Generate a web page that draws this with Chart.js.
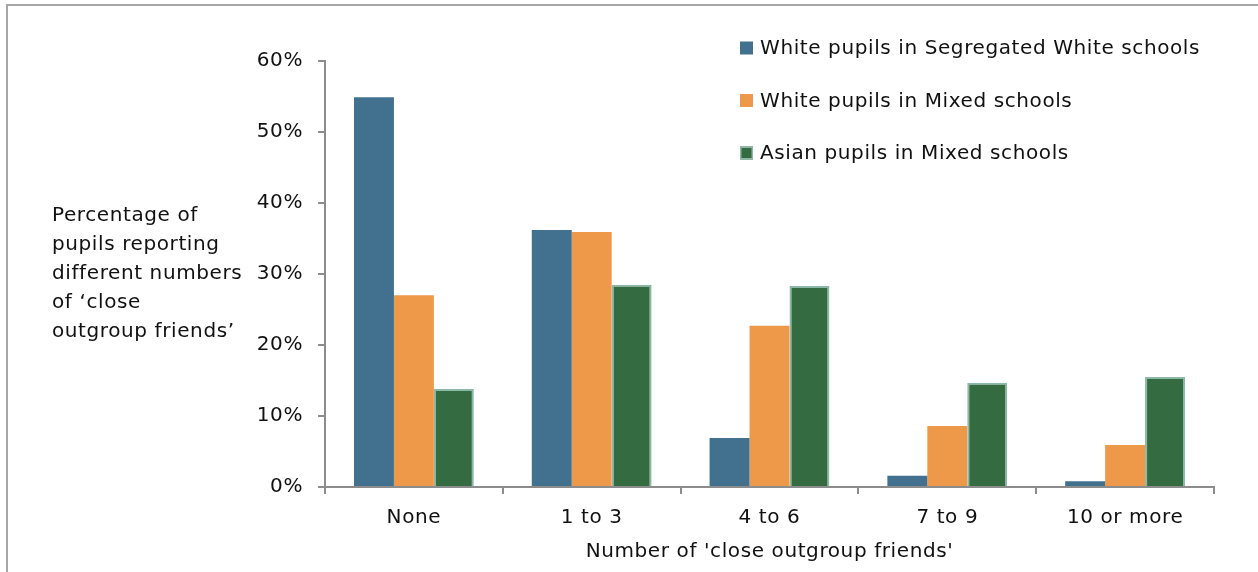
<!DOCTYPE html>
<html>
<head>
<meta charset="utf-8">
<script src="https://cdn.jsdelivr.net/npm/chart.js@4"></script>
<style>
  html, body { margin: 0; padding: 0; background: #fff; }
  #wrap { width: 1258px; height: 572px; position: relative; }
</style>
</head>
<body>
<div id="wrap"><canvas id="friendsChart"></canvas></div>
<script>
// data (percent of pupils)
const categories = ['None', '1 to 3', '4 to 6', '7 to 9', '10 or more'];
const segregatedWhite = [54.9, 36.2, 6.9, 1.6, 0.8];
const mixedWhite = [27.0, 35.9, 22.7, 8.6, 5.9];
const mixedAsian = [13.8, 28.5, 28.3, 14.7, 15.5];
const seriesNames = ['White pupils in Segregated White schools', 'White pupils in Mixed schools', 'Asian pupils in Mixed schools'];
const yTitleLines = ['Percentage of', 'pupils reporting', 'different numbers', 'of \u2018close', 'outgroup friends\u2019'];
const xTitle = "Number of 'close outgroup friends'";

const FONT = "'DejaVu Sans', sans-serif";
const FSIZE = 20;
const TEXT = '#111';
const AXIS = '#8c8c8c';

// frame, side title and legend are drawn by hand
const extras = {
    id: 'extras',
    beforeDraw(chart) {
        const c = chart.ctx;
        // the original font is wider than DejaVu, spread the letters a bit
        c.letterSpacing = '0.6px';
        c.save();
        c.fillStyle = '#fff';
        c.fillRect(0, 0, chart.width, chart.height);
        c.strokeStyle = '#a6a6a6';
        c.lineWidth = 2;
        c.beginPath();
        c.moveTo(7, chart.height);
        c.lineTo(7, 5);
        c.lineTo(chart.width, 5);
        c.stroke();
        c.restore();
    },
    afterDraw(chart) {
        const c = chart.ctx;
        c.save();
        c.font = FSIZE + 'px ' + FONT;
        c.fillStyle = TEXT;
        c.textBaseline = 'middle';
        c.textAlign = 'left';
        yTitleLines.forEach((line, i) => c.fillText(line, 52, 216 + i * 29));

        chart.data.datasets.forEach((ds, i) => {
            const y = 48 + i * 52.5;
            c.fillStyle = ds.backgroundColor;
            c.fillRect(740, y - 6.5, 13, 13);
            if (ds.borderWidth) {
                c.strokeStyle = ds.borderColor;
                c.lineWidth = 1.5;
                c.strokeRect(740.75, y - 5.75, 11.5, 11.5);
            }
            c.fillStyle = TEXT;
            c.fillText(ds.label, 760, y + 1);
        });
        c.restore();
    }
};

new Chart(document.getElementById('friendsChart'), {
    type: 'bar',
    data: {
        labels: categories,
        datasets: [
            { label: seriesNames[0], data: segregatedWhite, backgroundColor: '#41718f', borderWidth: 0 },
            { label: seriesNames[1], data: mixedWhite, backgroundColor: '#ee994a', borderWidth: 0 },
            { label: seriesNames[2], data: mixedAsian, backgroundColor: '#346b40', borderColor: '#8cb8a7', borderWidth: 2 }
        ]
    },
    options: {
        responsive: true,
        maintainAspectRatio: false,
        animation: false,
        datasets: { bar: { categoryPercentage: 0.674, barPercentage: 1 } },
        layout: { padding: { top: 61, right: 44, left: 0, bottom: 0 } },
        plugins: { legend: { display: false }, tooltip: { enabled: false } },
        scales: {
            x: {
                grid: { drawOnChartArea: false, color: AXIS, lineWidth: 2, tickLength: 7 },
                border: { color: AXIS, width: 2 },
                ticks: { color: TEXT, font: { family: FONT, size: FSIZE }, padding: 12, maxRotation: 0 },
                title: { display: true, text: xTitle, color: TEXT, font: { family: FONT, size: FSIZE }, padding: { top: 0, bottom: 8 } },
                afterFit(s) { s.height = 85; }
            },
            y: {
                min: 0,
                max: 60,
                grid: { drawOnChartArea: false, color: AXIS, lineWidth: 2, tickLength: 7 },
                border: { color: AXIS, width: 2 },
                ticks: {
                    stepSize: 10,
                    color: TEXT,
                    font: { family: FONT, size: FSIZE },
                    padding: 15,
                    callback: v => v + '%'
                },
                afterFit(s) { s.width = 325; }
            }
        }
    },
    plugins: [extras]
});
</script>
</body>
</html>
